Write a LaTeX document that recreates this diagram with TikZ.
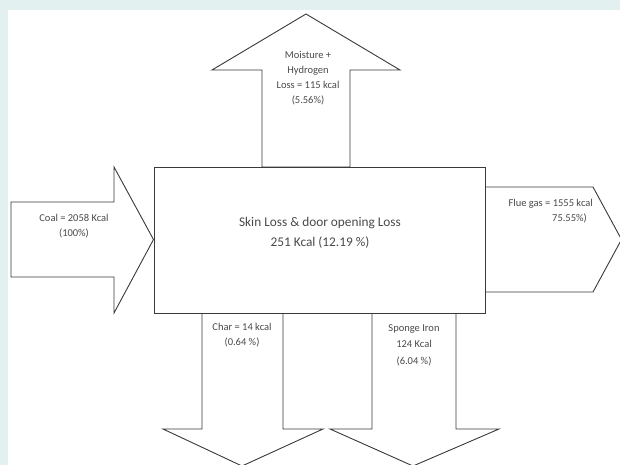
\documentclass[tikz,border=0pt]{standalone}
\usepackage{fontspec}
\setmainfont{Carlito}
\definecolor{pagebg}{HTML}{E2F1F0}
\definecolor{inkline}{HTML}{3A3A3A}
\definecolor{inktext}{HTML}{4A4A4A}
\begin{document}
\begin{tikzpicture}[x=1pt,y=-1pt,
  flow/.style={draw=inkline, line width=0.9pt, fill=white, line join=miter},
  chamber/.style={draw=inkline, line width=0.9pt, fill=white, inner sep=0pt},
  lbl/.style={text=inktext, font=\fontsize{10.5}{15}\selectfont, align=center, inner sep=0pt},
  mainlbl/.style={text=inktext, font=\fontsize{13.3}{20}\selectfont, align=center, inner sep=0pt}]
\useasboundingbox (0,0) rectangle (620,465);
% page background and white sheet
\fill[pagebg] (0,0) rectangle (620,465);
\fill[white] (8,10) rectangle (620,465);
\begin{scope}
\clip (0,0) rectangle (620,465);
% outgoing moisture + hydrogen (upwards)
\draw[flow] (262,167) -- (262,70) -- (212,70) -- (306,14) -- (400,70) -- (350,70) -- (350,167) -- cycle;
% incoming coal (from the left)
\draw[flow] (11,202) -- (114,202) -- (114,167) -- (153.5,239.5) -- (114,313) -- (114,277) -- (11,277) -- cycle;
% outgoing flue gas (to the right)
\draw[flow] (485,187) -- (593,187) -- (621.5,239.5) -- (593,292) -- (485,292) -- cycle;
% outgoing char (downwards)
\draw[flow] (202,313) -- (202,429) -- (163,429) -- (242,466) -- (323,429) -- (283,429) -- (283,313) -- cycle;
% outgoing sponge iron (downwards)
\draw[flow] (372,313) -- (372,429) -- (330,429) -- (413,466) -- (499,429) -- (456,429) -- (456,313) -- cycle;
\end{scope}
% kiln body
\node[chamber, minimum width=331pt, minimum height=146pt] (kiln) at (319.5,240) {};
% labels (anchored on the baseline of their last line)
\node[mainlbl, anchor=base] (skin) at (320,246) {Skin Loss \& door opening Loss\\251 Kcal (12.19 \%)};
\node[lbl, anchor=base] (moist) at (308,104) {Moisture +\\Hydrogen\\Loss = 115 kcal\\(5.56\%)};
\node[lbl, anchor=base] (coal) at (74,236) {Coal = 2058 Kcal\\(100\%)};
\node[lbl, anchor=base east, align=right] (flue) at (593,221) {Flue gas = 1555 kcal\\75.55\%)\hspace*{6pt}};
\node[lbl, anchor=base] (char) at (242,345) {Char = 14 kcal\\(0.64 \%)};
\node[lbl, anchor=base, font=\fontsize{10.5}{16.5}\selectfont] (sponge) at (414,364) {Sponge Iron\\124 Kcal\\(6.04 \%)};
\end{tikzpicture}
\end{document}
